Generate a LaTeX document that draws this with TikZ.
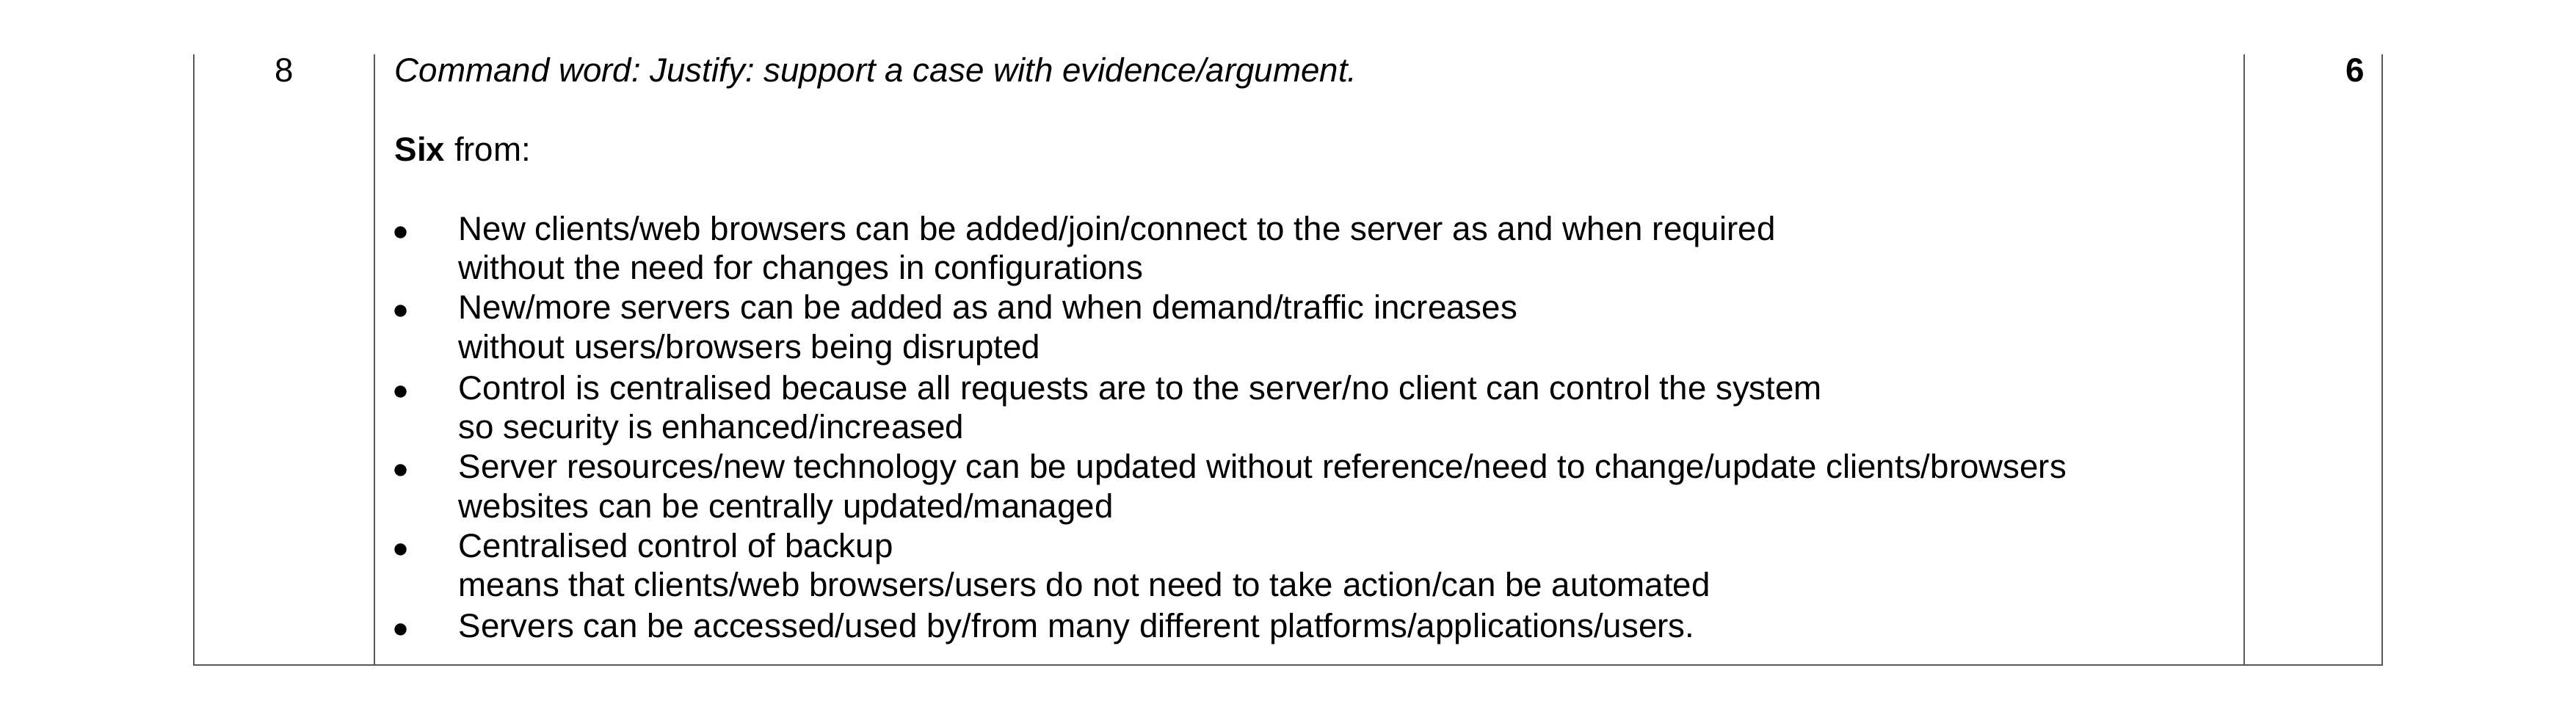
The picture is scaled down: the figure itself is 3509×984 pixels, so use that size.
\documentclass[tikz,border=0pt]{standalone}
\usepackage{fontspec}
\setmainfont{Liberation Sans}
\usetikzlibrary{positioning}
\frenchspacing
\tikzset{
  txt/.style={anchor=mid west, inner sep=0pt, font=\fontsize{13pt}{16pt}\selectfont},
  dot/.style={anchor=mid, inner sep=0pt, font=\fontsize{13pt}{16pt}\selectfont},
  rule/.style={line width=0.6pt, black!65}
}
\begin{document}
\begin{tikzpicture}[x=0.01cm, y=-0.01cm]
\useasboundingbox (0,0) rectangle (3509,984);
% table lines
\coordinate (tl) at (264,74);
\coordinate (bl) at (264,906);
\coordinate (t2) at (510,74);
\coordinate (b2) at (510,906);
\coordinate (t3) at (3057,74);
\coordinate (b3) at (3057,906);
\coordinate (tr) at (3245,74);
\coordinate (br) at (3245,906);
\draw[rule] (tl) -- (bl) -- (br) -- (tr);
\draw[rule] (t2) -- (b2);
\draw[rule] (t3) -- (b3);
% cells
\node[dot] (num) at (387,102) {8};
\node[txt, anchor=mid east] (mark) at (3222,102) {\textbf{6}};
\node[txt] (cmd) at (537,102) {\textit{Command word: Justify: support a case with evidence/argument.}};
\node[txt] (six) at (537,210) {\textbf{Six} from:};
% bullets
\node[dot] (b1) at (546,318) {$\bullet$};
\node[dot] (b2d) at (546,425) {$\bullet$};
\node[dot] (b3d) at (546,535) {$\bullet$};
\node[dot] (b4) at (546,642) {$\bullet$};
\node[dot] (b5) at (546,750) {$\bullet$};
\node[dot] (b6) at (546,859) {$\bullet$};
\node[txt] (p1a) at (624,318) {New clients/web browsers can be added/join/connect to the server as and when required};
\node[txt] (p1b) at (624,371) {without the need for changes in configurations};
\node[txt] (p2a) at (624,425) {New/more servers can be added as and when demand/traffic increases};
\node[txt] (p2b) at (624,479) {without users/browsers being disrupted};
\node[txt] (p3a) at (624,535) {Control is centralised because all requests are to the server/no client can control the system};
\node[txt] (p3b) at (624,588) {so security is enhanced/increased};
\node[txt] (p4a) at (624,642) {Server resources/new technology can be updated without reference/need to change/update clients/browsers};
\node[txt] (p4b) at (624,696) {websites can be centrally updated/managed};
\node[txt] (p5a) at (624,750) {Centralised control of backup};
\node[txt] (p5b) at (624,803) {means that clients/web browsers/users do not need to take action/can be automated};
\node[txt] (p6) at (624,859) {Servers can be accessed/used by/from many different platforms/applications/users.};
\end{tikzpicture}
\end{document}
